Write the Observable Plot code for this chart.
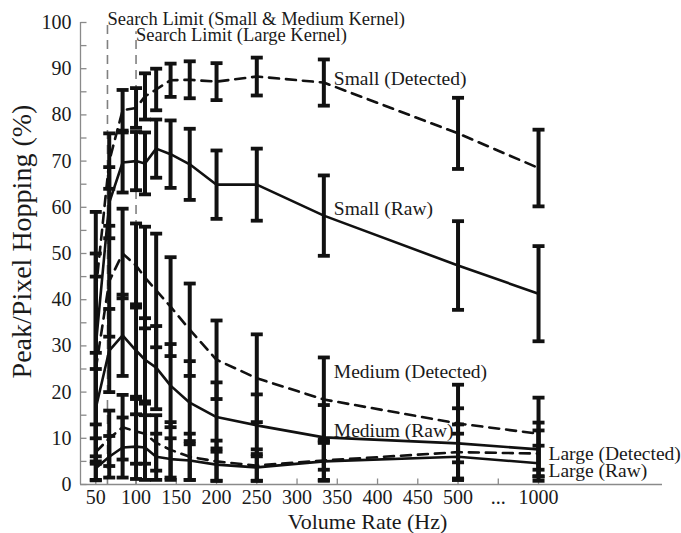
<!DOCTYPE html>
<html><head><meta charset="utf-8">
<script src="https://cdn.jsdelivr.net/npm/d3@7"></script>
<script src="https://cdn.jsdelivr.net/npm/@observablehq/plot@0.6"></script>
<style>body{margin:0;background:#fff;} svg text{font-family:"Liberation Serif", serif;}</style>
</head><body><div id="chart"></div>
<script>
// ---- data ----
const rates = [50, 66.7, 83.3, 100, 111.1, 125, 142.9, 166.7, 200, 250, 333.3, 500, 1000];

const smallDetected     = [42, 70, 81, 81.5, 84, 85.5, 87.5, 87.6, 87.2, 88.3, 87, 76, 68.5];
const smallDetectedErr  = [17, 6, 4.4, 4.3, 5, 4.5, 3.6, 4, 4, 4.1, 5, 7.7, 8.3];
const smallRaw          = [30, 61, 69.7, 70, 69.5, 72.7, 71.5, 69.3, 64.9, 64.9, 58.2, 47.4, 41.3];
const smallRawErr       = [20, 7.7, 6.5, 6.3, 6.7, 6.3, 7.3, 7.7, 7.4, 7.8, 8.7, 9.6, 10.3];
const mediumDetected    = [25, 44, 50, 47.4, 44.8, 42, 38.5, 33.5, 27, 23, 18.4, 13.2, 11];
const mediumDetectedErr = [20, 12, 9.7, 9.1, 11, 12.3, 10.7, 10, 8.5, 9.5, 9.1, 8.4, 7.8];
const mediumRaw         = [16.5, 29, 32.3, 29, 27, 25.3, 21.4, 17.7, 14.6, 12.8, 10.2, 8.9, 7.6];
const mediumRawErr      = [12, 9, 8.8, 10, 9, 9, 9, 9, 7.5, 6.7, 7, 7.6, 5.8];
const largeDetected     = [7, 10, 12.4, 11.5, 11, 9, 7.5, 6, 5, 4.1, 5.2, 7, 6.7];
const largeDetectedErr  = [6, 6, 7, 7, 6.5, 6, 6, 5, 4.5, 3.5, 4.5, 6, 5];
const largeRaw          = [3.5, 6, 8, 8.2, 8, 6, 5.5, 5.2, 4.3, 3.7, 5, 6, 4.6];
const largeRawErr       = [2.6, 4.5, 6.5, 7, 7, 5, 4.5, 4.2, 3.5, 2.9, 4, 5, 3.8];

const seriesLabels = ["Small (Detected)", "Small (Raw)", "Medium (Detected)", "Medium (Raw)", "Large (Detected)", "Large (Raw)"];
const labelRates   = [333.3, 333.3, 333.3, 333.3, 1000, 1000];
const labelValues  = [87.9, 59.7, 24.5, 11.7, 6.7, 3.0];

const searchLimitRates  = [64.5, 100];
const searchLimitTops   = [100, 98];
const searchLimitLabels = ["Search Limit (Small & Medium Kernel)", "Search Limit (Large Kernel)"];
const searchLabelValues = [100.8, 97.2];

const xTickValues = [50, 100, 150, 200, 250, 300, 350, 400, 450, 500, 550, 600];
const xTickLabels = ["50", "100", "150", "200", "250", "300", "350", "400", "450", "500", "...", "1000"];
const yTickValues = [0, 10, 20, 30, 40, 50, 60, 70, 80, 90, 100];
const yMinorTicks = [0, 5, 10, 15, 20, 25, 30, 35, 40, 45, 50, 55, 60, 65, 70, 75, 80, 85, 90, 95, 100];

// ---- build ----
const pos = r => r === 1000 ? 600 : r;   // axis break: 1000 Hz drawn after "..."
const defs = [
  {key: "Small Detected", dashed: true,  v: smallDetected,  e: smallDetectedErr},
  {key: "Small Raw",      dashed: false, v: smallRaw,       e: smallRawErr},
  {key: "Medium Detected",dashed: true,  v: mediumDetected, e: mediumDetectedErr},
  {key: "Medium Raw",     dashed: false, v: mediumRaw,      e: mediumRawErr},
  {key: "Large Detected", dashed: true,  v: largeDetected,  e: largeDetectedErr},
  {key: "Large Raw",      dashed: false, v: largeRaw,       e: largeRawErr}
];
const rows = defs.flatMap(s => rates.map((r, i) => ({
  key: s.key, dashed: s.dashed, rate: r, value: s.v[i],
  lo: Math.max(0.8, s.v[i] - s.e[i]), hi: s.v[i] + s.e[i]
})));
const caps = rows.flatMap(d => [{rate: d.rate, y: d.lo}, {rate: d.rate, y: d.hi}]);
const labels = seriesLabels.map((t, i) => ({text: t, rate: labelRates[i], y: labelValues[i]}));
const limits = searchLimitRates.map((r, i) => ({rate: r, top: searchLimitTops[i], text: searchLimitLabels[i], ty: searchLabelValues[i]}));

const capSymbol  = {draw(c, s) { const w = Math.sqrt(s / Math.PI); c.moveTo(-w, 0); c.lineTo(w, 0); }};
const tickRight  = {draw(c, s) { const w = Math.sqrt(s / Math.PI); c.moveTo(0, 0); c.lineTo(w, 0); }};
const tickUp     = {draw(c, s) { const w = Math.sqrt(s / Math.PI); c.moveTo(0, 0); c.lineTo(0, -w); }};

const font = "Liberation Serif";
const ink = "#1a1a1a";
const X0 = 31;

const chart = Plot.plot({
  width: 681, height: 533,
  marginLeft: 80, marginRight: 19, marginTop: 22, marginBottom: 49,
  style: {background: "#fff", color: ink},
  x: {domain: [X0, 754]},
  y: {domain: [0, 100]},
  marks: [
    // search limits
    Plot.ruleX(limits, {x: "rate", y1: 0, y2: "top", stroke: "#808080", strokeWidth: 1.6, strokeDasharray: "9,6"}),
    Plot.text(limits, {x: "rate", y: "ty", text: "text", textAnchor: "start", fontSize: 18.5, fill: ink, fontFamily: font}),
    // axes
    Plot.ruleY([0], {x1: X0, x2: 754, stroke: "#8a8a8a", strokeWidth: 1.3}),
    Plot.ruleX([X0], {y1: 0, y2: 100, stroke: "#8a8a8a", strokeWidth: 1.3}),
    Plot.dot(yMinorTicks, {x: X0, y: d => d, symbol: tickRight, r: 6, stroke: "#8a8a8a", strokeWidth: 1.3, fill: "none"}),
    Plot.dot(xTickValues, {x: d => d, y: 0, symbol: tickUp, r: 6, stroke: "#8a8a8a", strokeWidth: 1.3, fill: "none"}),
    Plot.axisY(yTickValues, {tickSize: 0, tickPadding: 9, fontSize: 20, fill: ink, label: null, fontFamily: font}),
    Plot.axisX(xTickValues, {tickSize: 0, tickPadding: 5, fontSize: 20, fill: ink, label: null, fontFamily: font,
      tickFormat: d => xTickLabels[xTickValues.indexOf(d)]}),
    Plot.text(["Volume Rate (Hz)"], {frameAnchor: "bottom", textAnchor: "middle", lineAnchor: "middle", dy: 37, dx: -4, fontSize: 22, fill: ink, fontFamily: font}),
    Plot.text(["Peak/Pixel Hopping (%)"], {frameAnchor: "left", textAnchor: "middle", lineAnchor: "middle", rotate: -90, dx: -58, dy: -12, fontSize: 28, fill: ink, fontFamily: font}),
    // error bars
    Plot.ruleX(rows, {x: d => pos(d.rate), y1: "lo", y2: "hi", stroke: "#111", strokeWidth: 4}),
    Plot.dot(caps, {x: d => pos(d.rate), y: "y", symbol: capSymbol, r: 6, stroke: "#111", strokeWidth: 3.8, fill: "none"}),
    // lines
    Plot.line(rows.filter(d => d.dashed), {x: d => pos(d.rate), y: "value", z: "key", stroke: "#111", strokeWidth: 2.6, strokeDasharray: "10,7"}),
    Plot.line(rows.filter(d => !d.dashed), {x: d => pos(d.rate), y: "value", z: "key", stroke: "#111", strokeWidth: 2.6}),
    // series labels
    Plot.text(labels, {x: d => pos(d.rate), y: "y", text: "text", textAnchor: "start", dx: 10, fontSize: 19.5, fill: ink, fontFamily: font})
  ]
});
document.getElementById("chart").appendChild(chart);
</script>
</body></html>
